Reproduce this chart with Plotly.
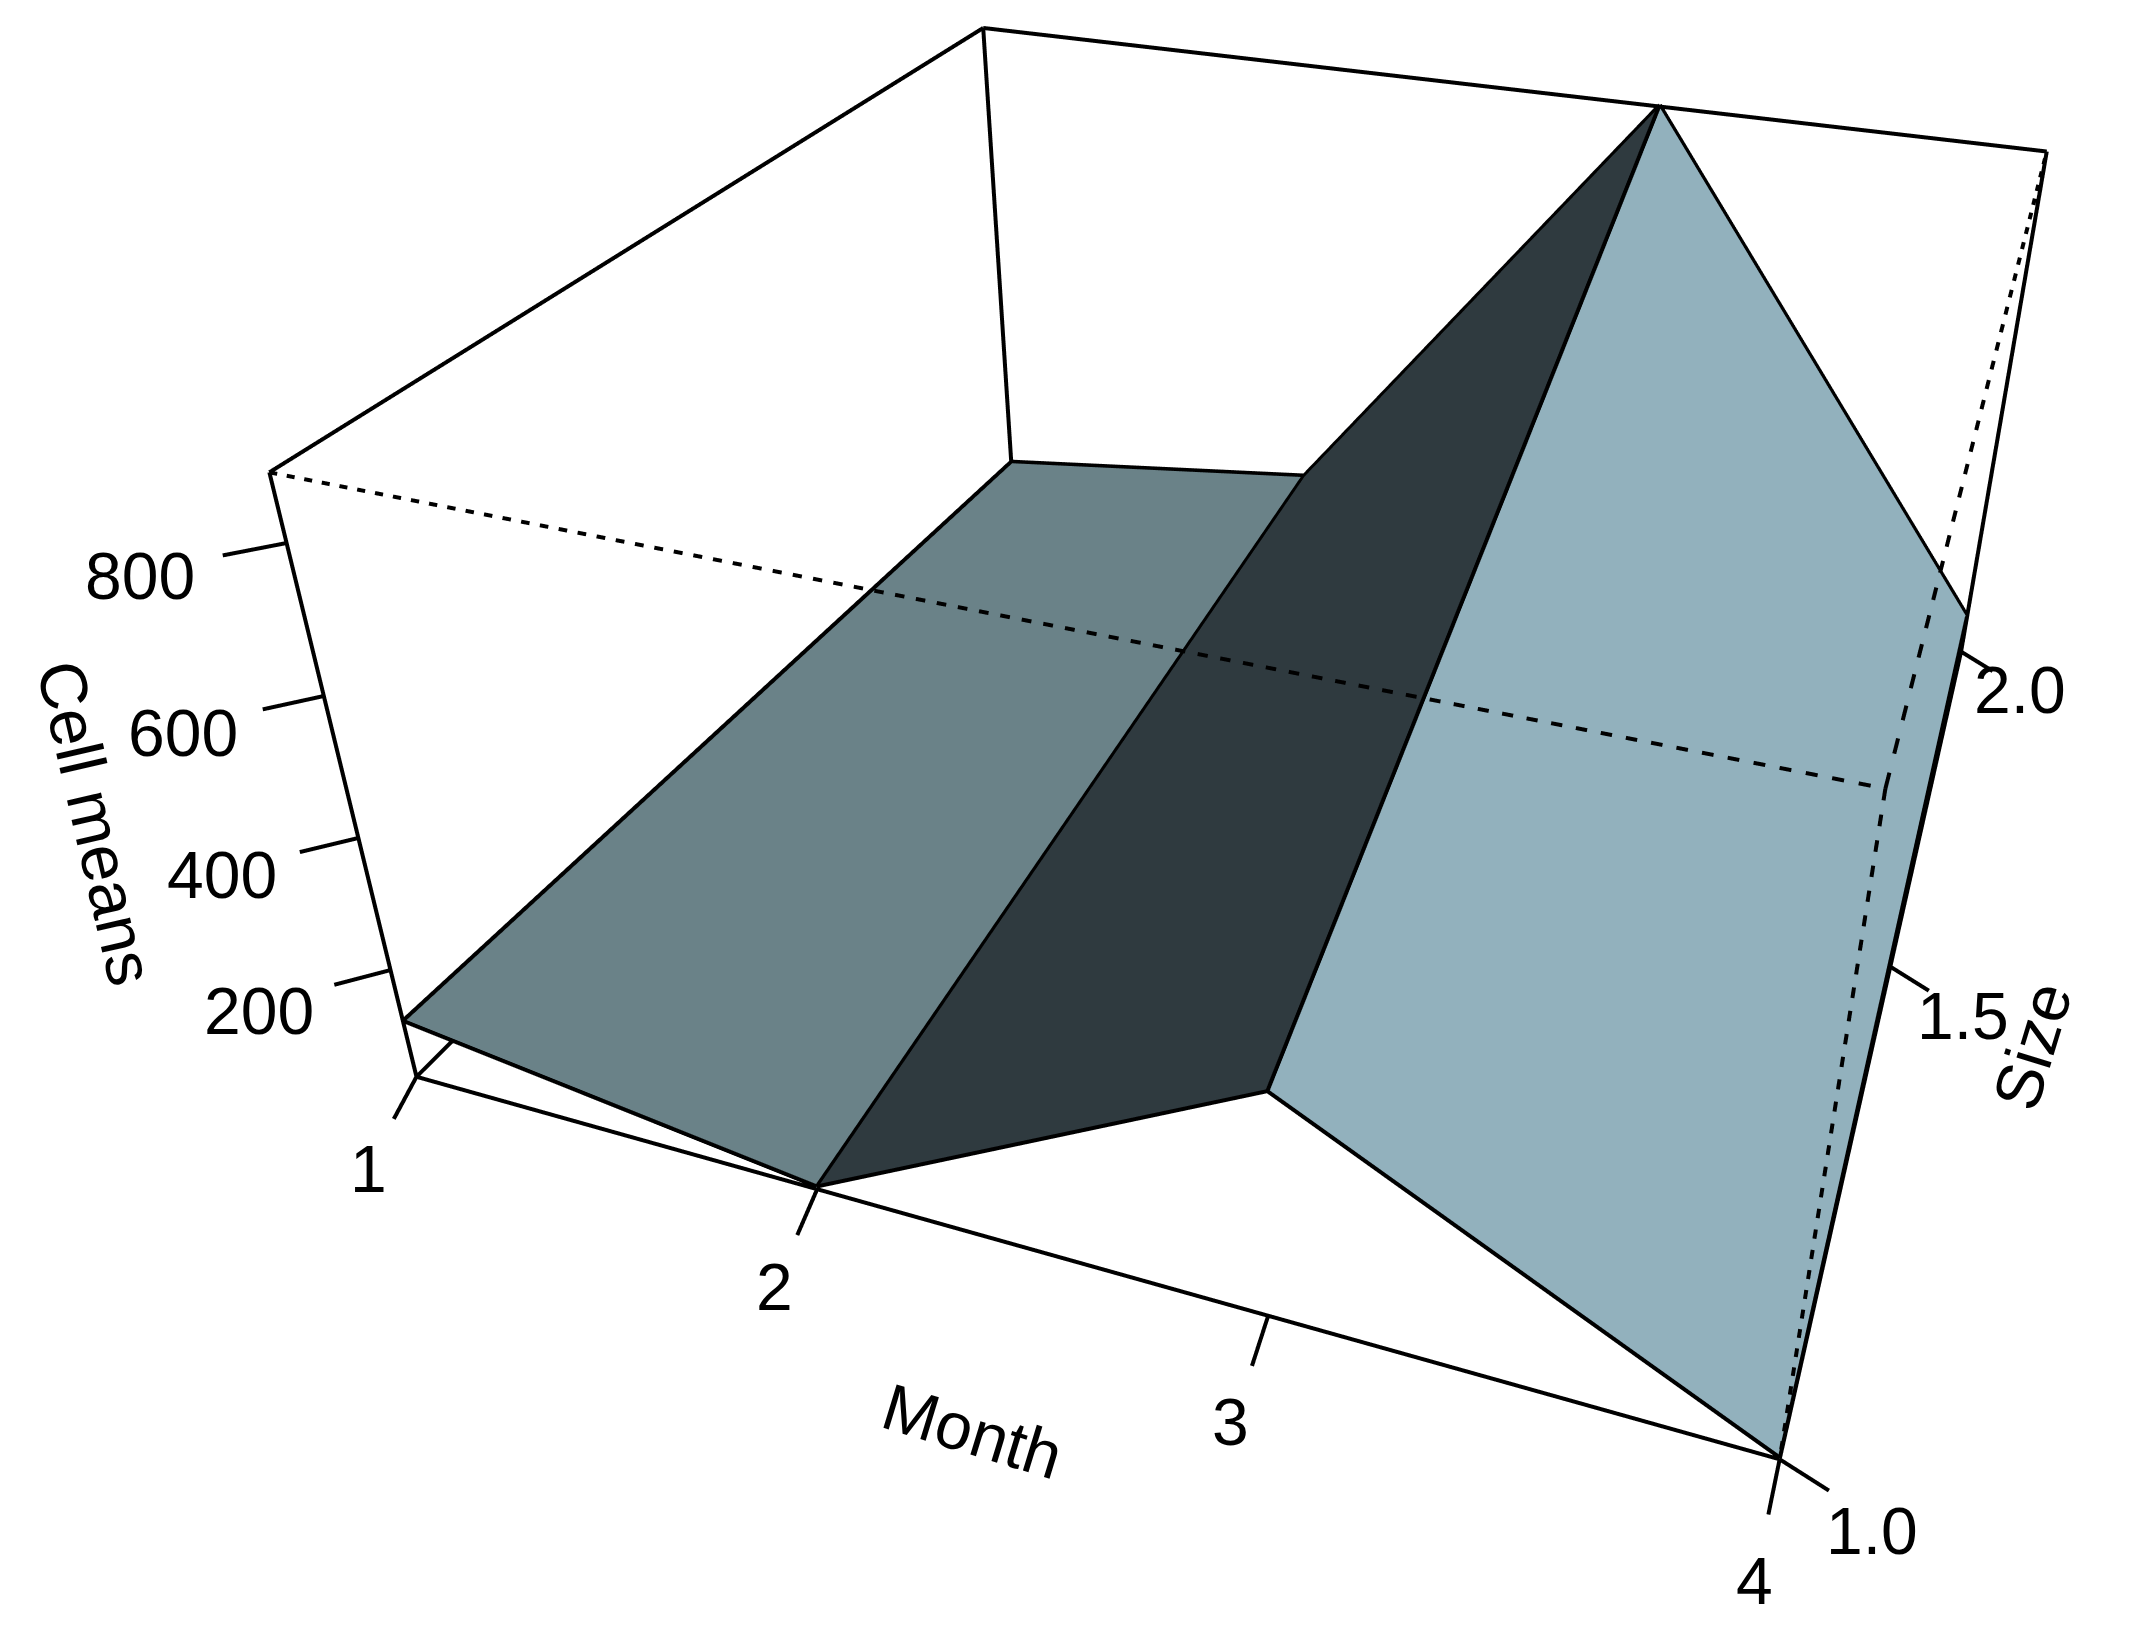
import math
import plotly.graph_objects as go

# ---- data ----
month = [1, 2, 3, 4]
size = [1, 2]
cell_means_size1 = [116.8, 29.4, 358.6, 27.5]
cell_means_size2 = [70.2, 144.7, 887.4, 93.7]
z_ticks = [200, 400, 600, 800]
size_ticks = [1.0, 1.5, 2.0]
facet_colors = ['#6a8288', '#2f3a3f', '#92b1bd']

# ---- view (fitted to the reference) ----
W, H = 2156, 1628
F, PX, PY = 2359.6, 1300.9, 595.68
eye = dict(x=0.5505, y=-1.5198, z=0.9328)
center = dict(x=0.0087, y=0, z=-0.0119)
up = dict(x=-0.0047, y=0, z=1)
LW = 8

HL = 2 * F * math.tan(math.pi / 8)          # height of the 3-D viewport
WL = 2 * max(PX, W - PX)
OX, OY = PX - WL / 2, PY - HL / 2
EXTRA = 100                                 # page room under the viewport, for labels
HT = HL + EXTRA

all_z = cell_means_size1 + cell_means_size2
zmin, zmax = min(all_z), max(all_z)
grid = {1: cell_means_size1, 2: cell_means_size2}
nudge = 2.5  # keeps facet outlines out of the facet plane


def segments(pairs):
    xs, ys, zs = [], [], []
    for a, b in pairs:
        xs += [a[0], b[0], None]
        ys += [a[1], b[1], None]
        zs += [a[2], b[2], None]
    return xs, ys, zs


def lines(pairs, width=LW):
    xs, ys, zs = segments(pairs)
    return go.Scatter3d(x=xs, y=ys, z=zs, mode='lines', hoverinfo='skip',
                        line=dict(color='black', width=width))


fig = go.Figure()

# surface
vx = [m for s in size for m in month]
vy = [s for s in size for m in month]
vz = cell_means_size1 + cell_means_size2
fig.add_trace(go.Mesh3d(
    x=vx, y=vy, z=vz,
    i=[0, 0, 1, 1, 2, 2], j=[1, 5, 2, 6, 3, 7], k=[5, 4, 6, 5, 7, 6],
    facecolor=[c for c in facet_colors for _ in range(2)],
    flatshading=True, hoverinfo='skip',
    lighting=dict(ambient=1, diffuse=0, specular=0, fresnel=0, roughness=1)))

# facet outlines
outline = []
for s in size:
    for a, b, za, zb in zip(month[:-1], month[1:], grid[s][:-1], grid[s][1:]):
        outline.append(((a, s, za + nudge), (b, s, zb + nudge)))
for i, m in enumerate(month):
    outline.append(((m, 1, grid[1][i] + nudge), (m, 2, grid[2][i] + nudge)))
fig.add_trace(lines(outline))

# box
x0, x1, y0, y1 = month[0], month[-1], size[0], size[-1]
A, B, C, D = (x0, y0, zmin), (x1, y0, zmin), (x1, y1, zmin), (x0, y1, zmin)
A2, B2, C2, D2 = (x0, y0, zmax), (x1, y0, zmax), (x1, y1, zmax), (x0, y1, zmax)
fig.add_trace(lines([(A, B), (B, C), (C, D), (D, A), (A, A2), (C, C2), (D, D2), (C2, D2), (D2, A2)]))

# dashed front edges
dashes = []
for a, b, n in [(A2, B2, 75), (B2, C2, 30), (B2, B, 31)]:
    for i in range(n):
        t0, t1 = i / n, (i + 0.45) / n
        dashes.append((tuple(p + (q - p) * t0 for p, q in zip(a, b)),
                       tuple(p + (q - p) * t1 for p, q in zip(a, b))))
fig.add_trace(lines(dashes))

# tick marks
ticks = []
for m in month:
    ticks.append(((m, y0, zmin), (m, y0 - 0.03, zmin - 26)))
for s in size_ticks:
    ticks.append(((x1, s, zmin), (x1 + 0.095, s, zmin - 26)))
for z in z_ticks:
    ticks.append(((x0, y0, z), (x0 - 0.08, y0 - 0.027, z)))
fig.add_trace(lines(ticks))


# ---- text ----
def label(text, cx, cy, angle=0):
    return dict(text=text, x=(cx - OX) / WL, y=1 - (cy - OY) / HT, xref='paper', yref='paper',
                xanchor='center', yanchor='middle', showarrow=False, textangle=angle,
                font=dict(family='Liberation Sans', size=66, color='black'))


z_label_pos = [(259, 1011), (222, 875), (183, 733), (140, 576)]
month_label_pos = [(368, 1169), (774, 1287), (1230, 1422), (1754, 1581)]
size_label_pos = [(1872, 1531), (1963, 1016), (2020, 690)]
annotations = [label(str(t), *p) for t, p in zip(z_ticks, z_label_pos)]
annotations += [label(str(t), *p) for t, p in zip(month, month_label_pos)]
annotations += [label(f'{t:.1f}', *p) for t, p in zip(size_ticks, size_label_pos)]
annotations += [label('Cell means', 96, 823, 77), label('Month', 972, 1431, 17), label('Size', 2032, 1046, -73)]

zp = (zmax - zmin) * 0.5
fig.update_layout(
    width=WL, height=HT, margin=dict(l=0, r=0, t=0, b=0), showlegend=False,
    paper_bgcolor='white', annotations=annotations,
    scene=dict(
        dragmode='orbit', domain=dict(x=[0, 1], y=[EXTRA / HT, 1]),
        xaxis=dict(visible=False, range=[x0 - 1.5, x1 + 1.5]),
        yaxis=dict(visible=False, range=[y0 - 0.5, y1 + 0.5]),
        zaxis=dict(visible=False, range=[zmin - zp, zmax + zp]),
        aspectmode='manual', aspectratio=dict(x=2, y=2 * 0.9993, z=2 * 0.4985),
        camera=dict(eye=eye, center=center, up=up, projection=dict(type='perspective'))))

place = ("document.documentElement.style.overflow='hidden';"
         "document.body.style.cssText='margin:%.0fpx 0 0 %.0fpx;overflow:hidden';" % (OY, OX))
fig.write_html('out.html', config={'displayModeBar': False}, post_script=place)
